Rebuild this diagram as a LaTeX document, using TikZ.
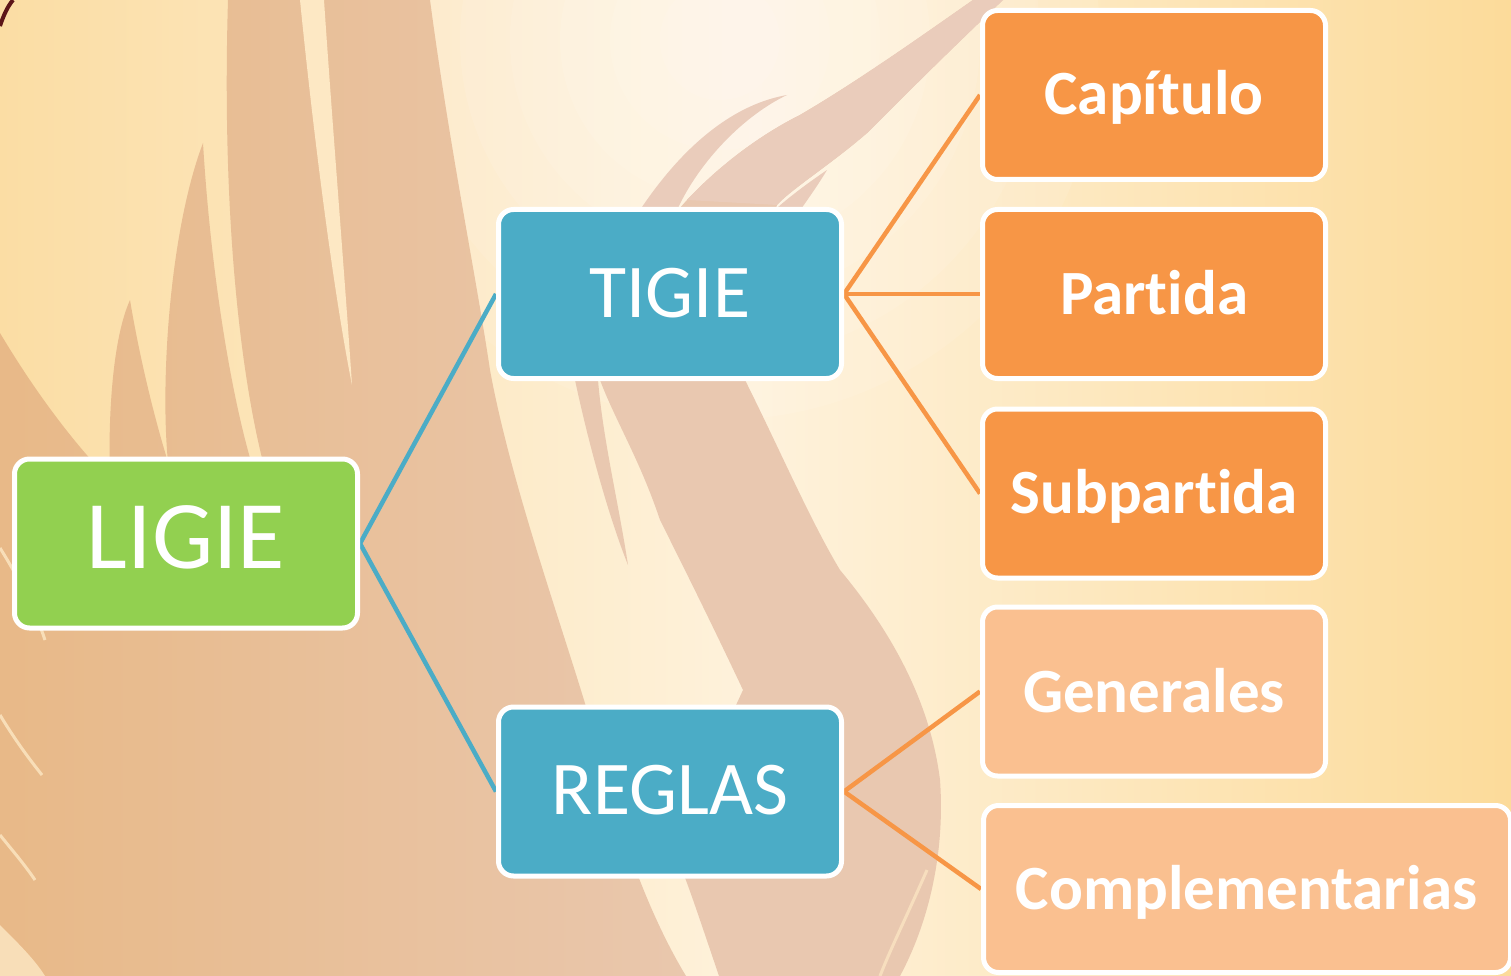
\documentclass[tikz,border=0pt]{standalone}
\usepackage{fontspec}
\setmainfont{Carlito}[Ligatures=NoCommon]
\pgfdeclarelayer{bgimg}
\pgfdeclarelayer{conn}
\pgfsetlayers{bgimg,conn,main}
\definecolor{bgL}{HTML}{FBDDA4}
\definecolor{bgM}{HTML}{FEF2DC}
\definecolor{bgR}{HTML}{FCDB9A}
\definecolor{tanL}{HTML}{E8B988}
\definecolor{tanR}{HTML}{E9C7AD}
\definecolor{neckC}{HTML}{E9C8B0}
\definecolor{wingC}{HTML}{EACCBB}
\definecolor{creamC}{HTML}{FDE8C4}
\definecolor{boxBlue}{HTML}{4BACC6}
\definecolor{boxGreen}{HTML}{92D050}
\definecolor{boxOrange}{HTML}{F79646}
\definecolor{boxLight}{HTML}{FAC090}
\definecolor{maroonC}{HTML}{5C1518}
\begin{document}
\begin{tikzpicture}[x=1pt,y=-1pt,
 box/.style={draw=white,line width=5pt,rounded corners=15pt,minimum width=343pt,minimum height=169pt,inner sep=0pt,text=white},
 rootbox/.style={box,fill=boxGreen,font=\fontsize{97}{105}\selectfont,text height=60pt,text depth=11pt},
 midbox/.style={box,fill=boxBlue,font=\fontsize{76}{84}\selectfont,text height=54pt,text depth=8pt},
 leafbox/.style={box,fill=boxOrange,font=\fontsize{63}{70}\selectfont\bfseries,text height=46pt,text depth=6pt},
 lightbox/.style={box,fill=boxLight,font=\fontsize{63}{70}\selectfont\bfseries,text height=46pt,text depth=5pt},
 blueconn/.style={draw=boxBlue,line width=4.5pt},
 orangeconn/.style={draw=boxOrange,line width=4.5pt}]
\useasboundingbox (0,0) rectangle (1511,976);
\begin{pgfonlayer}{bgimg}
\begin{scope}
\clip (0,0) rectangle (1511,976);
\shade[left color=bgL, right color=bgR, middle color=bgM] (0,0) rectangle (1511,976);
\foreach \r in {60,110,160,210,260,320,380}
  \fill[white,opacity=0.09] (720,40) circle (\r pt);
% left feather mass
\shade[left color=tanL, right color=tanR]
 (0,976) -- (0,333) .. controls (40,400) and (80,450) .. (110,480)
 .. controls (108,420) and (112,340) .. (130,300)
 .. controls (140,360) and (155,420) .. (168,462)
 .. controls (160,380) and (170,230) .. (203,143)
 .. controls (210,260) and (228,380) .. (250,458) -- (262,458)
 .. controls (238,360) and (222,200) .. (228,0) -- (430,0)
 .. controls (450,150) and (475,270) .. (490,370)
 .. controls (510,480) and (560,620) .. (587,710)
 .. controls (610,800) and (640,900) .. (686,976) -- cycle;
% light stripes inside left mass
\fill[creamC] (300,0) .. controls (315,150) and (335,300) .. (352,385)
 .. controls (345,280) and (332,120) .. (324,0) -- cycle;
\draw[creamC,line width=3pt,opacity=0.8] (0,548) .. controls (20,580) and (35,610) .. (45,640);
\draw[creamC,line width=3pt,opacity=0.8] (0,715) .. controls (15,740) and (30,760) .. (42,775);
\draw[creamC,line width=3pt,opacity=0.8] (0,835) .. controls (12,850) and (25,865) .. (35,880);
\fill[creamC,opacity=0.8] (0,925) .. controls (20,945) and (35,960) .. (45,976) -- (0,976) -- cycle;
% neck and wing
\fill[neckC]
 (973,0) -- (1003,0) .. controls (950,50) and (900,100) .. (867,133)
 .. controls (830,165) and (790,190) .. (777,205)
 .. controls (760,260) and (745,320) .. (745,380)
 .. controls (780,450) and (810,520) .. (840,570)
 .. controls (890,630) and (930,700) .. (940,780)
 .. controls (945,850) and (930,920) .. (900,976) -- (719,976)
 .. controls (700,920) and (690,890) .. (682,870)
 .. controls (690,800) and (720,740) .. (743,690)
 .. controls (710,620) and (680,560) .. (660,520)
 .. controls (640,460) and (615,420) .. (600,380)
 .. controls (620,300) and (650,240) .. (687,200)
 .. controls (720,165) and (760,135) .. (800,115)
 .. controls (860,80) and (930,30) .. (973,0) -- cycle;
\fill[wingC] (973,0) -- (1003,0) .. controls (950,50) and (900,100) .. (867,133)
 .. controls (830,165) and (790,190) .. (777,205) -- (687,200)
 .. controls (720,165) and (760,135) .. (800,115)
 .. controls (860,80) and (930,30) .. (973,0) -- cycle;
\fill[wingC] (640,210) .. controls (680,150) and (730,105) .. (787,95)
 .. controls (745,115) and (700,160) .. (677,210) -- cycle;
\fill[wingC] (767,217) .. controls (785,200) and (805,185) .. (827,170)
 .. controls (815,190) and (800,210) .. (790,225) -- cycle;
\fill[neckC] (575,380) .. controls (590,450) and (610,520) .. (628,565)
 .. controls (618,500) and (603,440) .. (598,380) -- cycle;
\draw[creamC,line width=3pt,opacity=0.7] (927,870) .. controls (905,920) and (890,950) .. (880,976);
% dark curl top-left
\draw[maroonC,line width=4pt] (0,26) .. controls (4,14) and (8,6) .. (13,0);
\end{scope}
\end{pgfonlayer}
% nodes
\node[rootbox]  (ligie)  at (186,543.5) {LIGIE};
\node[midbox]   (tigie)  at (670,294)   {TIGIE};
\node[midbox]   (reglas) at (670,791.5) {REGLAS};
\node[leafbox]  (cap)    at (1154,95)   {Capítulo};
\node[leafbox]  (par)    at (1154,294)  {Partida};
\node[leafbox]  (sub)    at (1154,493.5){Subpartida};
\node[lightbox] (gen)    at (1154,691.5){Generales};
\node[lightbox,minimum width=527pt,minimum height=167pt] (comp) at (1247,889) {Complementarias};
% connectors
\begin{pgfonlayer}{conn}
\draw[blueconn] (ligie.east) -- (tigie.west);
\draw[blueconn] (ligie.east) -- (reglas.west);
\draw[orangeconn] (tigie.east) -- (cap.west);
\draw[orangeconn] (tigie.east) -- (par.west);
\draw[orangeconn] (tigie.east) -- (sub.west);
\draw[orangeconn] (reglas.east) -- (gen.west);
\draw[orangeconn] (reglas.east) -- (comp.west);
\end{pgfonlayer}
\end{tikzpicture}
\end{document}
